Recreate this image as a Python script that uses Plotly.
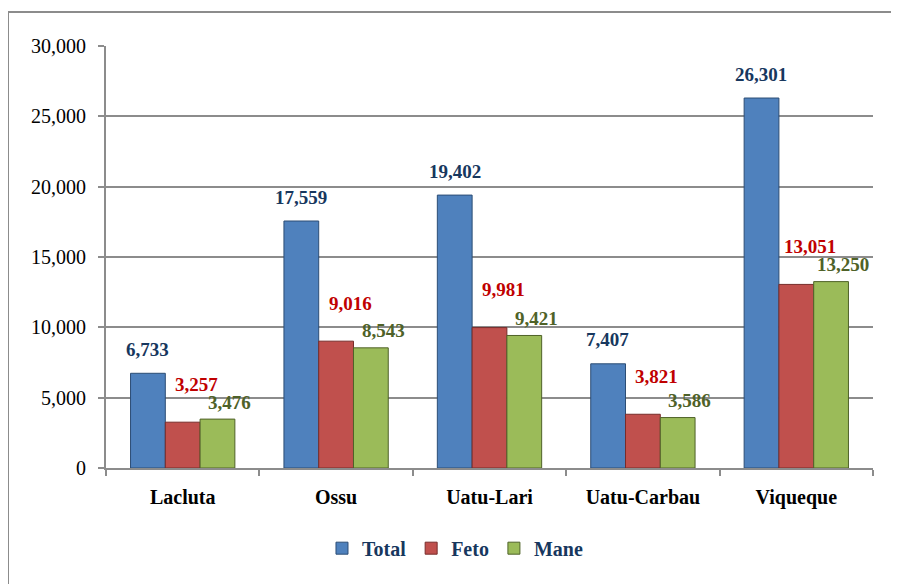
import plotly.graph_objects as go

districts = ["Lacluta", "Ossu", "Uatu-Lari", "Uatu-Carbau", "Viqueque"]
total = [6733, 17559, 19402, 7407, 26301]
feto = [3257, 9016, 9981, 3821, 13051]
mane = [3476, 8543, 9421, 3586, 13250]

_FONT = "Liberation Serif, Times New Roman, serif"
_GRID = "#8C8C8C"

_W, _H = 899, 584
_L, _R, _T, _B = 98, 34, 38, 124
_PW, _PH = _W - _L - _R, _H - _T - _B

series = [
    dict(name="Total", y=total, color="#4F81BD", line="#2C4D75", text="#17375E", dx=-35, tx=0, ty=24),
    dict(name="Feto", y=feto, color="#C0504D", line="#772C2A", text="#C00000", dx=0, tx=14, ty=38),
    dict(name="Mane", y=mane, color="#9BBB59", line="#4F6228", text="#4F6228", dx=35, tx=12, ty=17),
]

fig = go.Figure()
annotations = []
for s in series:
    fig.add_trace(go.Bar(
        x=districts, y=s["y"], name=s["name"],
        marker=dict(color=s["color"], line=dict(color=s["line"], width=1)),
        hovertemplate="%{x}<br>%{y:,}<extra>" + s["name"] + "</extra>",
    ))
    for d, v in zip(districts, s["y"]):
        annotations.append(dict(
            x=d, y=v, xref="x", yref="y", text=f"<b>{v:,}</b>", showarrow=False,
            xshift=s["dx"] + s["tx"], yshift=s["ty"],
            font=dict(family=_FONT, size=19, color=s["text"]),
        ))

# outer frame: only its left and top edges fall inside the picture
_fx0 = (0 - _L) / _PW
_fy1 = (_PH + _T - 4) / _PH
_frame = dict(color="#8C8C8C", width=2)

fig.update_layout(
    width=_W, height=_H,
    paper_bgcolor="#FFFFFF", plot_bgcolor="#FFFFFF",
    margin=dict(l=_L, r=_R, t=_T, b=_B),
    barmode="group", bargap=0.32, bargroupgap=0,
    font=dict(family=_FONT, color="#000000"),
    annotations=annotations,
    xaxis=dict(
        showgrid=False, zeroline=False, showline=True, linecolor=_GRID, linewidth=2,
        ticks="outside", tickson="boundaries", ticklen=6, tickcolor=_GRID, tickwidth=2,
        ticklabelstandoff=10,
        tickfont=dict(family=_FONT, size=20, color="#000000", weight="bold"),
    ),
    yaxis=dict(
        range=[0, 30000], dtick=5000, tickformat=",",
        showgrid=True, gridcolor=_GRID, gridwidth=1.5, zeroline=False,
        showline=True, linecolor=_GRID, linewidth=2,
        ticks="outside", ticklen=6, tickcolor=_GRID, tickwidth=2,
        ticklabelstandoff=8,
        tickfont=dict(family=_FONT, size=20, color="#000000"),
    ),
    legend=dict(
        orientation="h", x=0.455, xanchor="center", y=-0.19, yanchor="middle",
        font=dict(family=_FONT, size=20, color="#17375E", weight="bold"),
        bgcolor="rgba(0,0,0,0)", itemwidth=30,
    ),
    showlegend=True,
    shapes=[
        dict(type="line", xref="paper", yref="paper", x0=_fx0, x1=_fx0, y0=-1, y1=_fy1, line=_frame),
        dict(type="line", xref="paper", yref="paper", x0=_fx0, x1=2, y0=_fy1, y1=_fy1, line=_frame),
    ],
)

fig.write_html("out.html")
